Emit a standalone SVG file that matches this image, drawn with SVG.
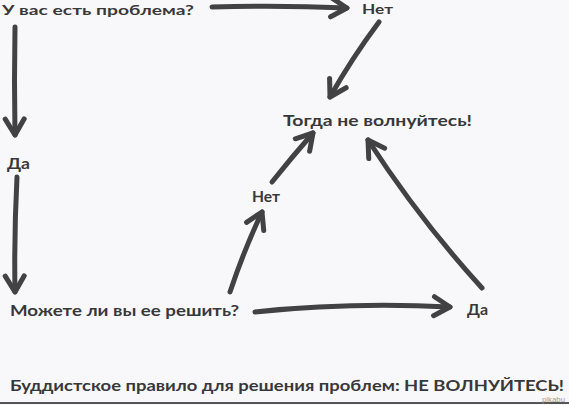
<svg xmlns="http://www.w3.org/2000/svg" width="569" height="405" viewBox="0 0 569 405">
<style>
.t{font-family:Lato,"Open Sans","Liberation Sans",sans-serif;font-weight:bold;font-size:15px;fill:#38383a}
.s{font-size:14px}
.c{fill:none;stroke:#424244;stroke-width:5;stroke-linecap:round;stroke-linejoin:round}
.h{fill:none;stroke:#424244;stroke-width:5;stroke-linecap:round;stroke-linejoin:round}
</style>
<defs>
<marker id="ah" markerUnits="userSpaceOnUse" markerWidth="40" markerHeight="40" refX="20" refY="20" orient="auto" viewBox="0 0 40 40" overflow="visible">
<path d="M4,10.5 L20,20 L4,29.5" class="h"/>
</marker>
</defs>
<rect width="569" height="405" fill="#f8f8fa"/>
<g id="q1"><text class="t s" x="2" y="14.5" textLength="192" lengthAdjust="spacingAndGlyphs">У вас есть проблема?</text></g>
<g id="no1"><text class="t s" x="362" y="13.5" textLength="31" lengthAdjust="spacingAndGlyphs">Нет</text></g>
<g id="calm"><text class="t" x="283" y="126" textLength="189" lengthAdjust="spacingAndGlyphs">Тогда не волнуйтесь!</text></g>
<g id="yes1"><text class="t" x="7" y="169" textLength="23" lengthAdjust="spacingAndGlyphs">Да</text></g>
<g id="no2"><text class="t" x="252" y="202" textLength="28" lengthAdjust="spacingAndGlyphs">Нет</text></g>
<g id="q2"><text class="t" x="10" y="316" textLength="229" lengthAdjust="spacingAndGlyphs">Можете ли вы ее решить?</text></g>
<g id="yes2"><text class="t" x="467" y="315" textLength="21" lengthAdjust="spacingAndGlyphs">Да</text></g>
<g id="rule"><text class="t" x="10" y="391" textLength="554" lengthAdjust="spacingAndGlyphs">Буддистское правило для решения проблем: НЕ ВОЛНУЙТЕСЬ!</text></g>
<g id="connectors">
<path class="c" d="M212,7 Q280,5 347,8" marker-end="url(#ah)"/>
<path class="c" d="M379,22 Q352,58 330,97" marker-end="url(#ah)"/>
<path class="c" d="M15,27 Q14,80 15,135" marker-end="url(#ah)"/>
<path class="c" d="M17,177 Q14,235 15,292" marker-end="url(#ah)"/>
<path class="c" d="M230,292 Q244,250 262,212" marker-end="url(#ah)"/>
<path class="c" d="M272,182 Q292,157 313,133" marker-end="url(#ah)"/>
<path class="c" d="M482,288 Q420,220 368,140" marker-end="url(#ah)"/>
<path class="c" d="M255,312 Q350,302 450,307" marker-end="url(#ah)"/>
</g>
<line x1="0" y1="403" x2="569" y2="403" stroke="#555" stroke-width="2"/>
<text x="542" y="401.5" font-family="Liberation Sans,sans-serif" font-size="7" fill="#9a9a9a" textLength="23" lengthAdjust="spacingAndGlyphs">pikabu</text>
</svg>
